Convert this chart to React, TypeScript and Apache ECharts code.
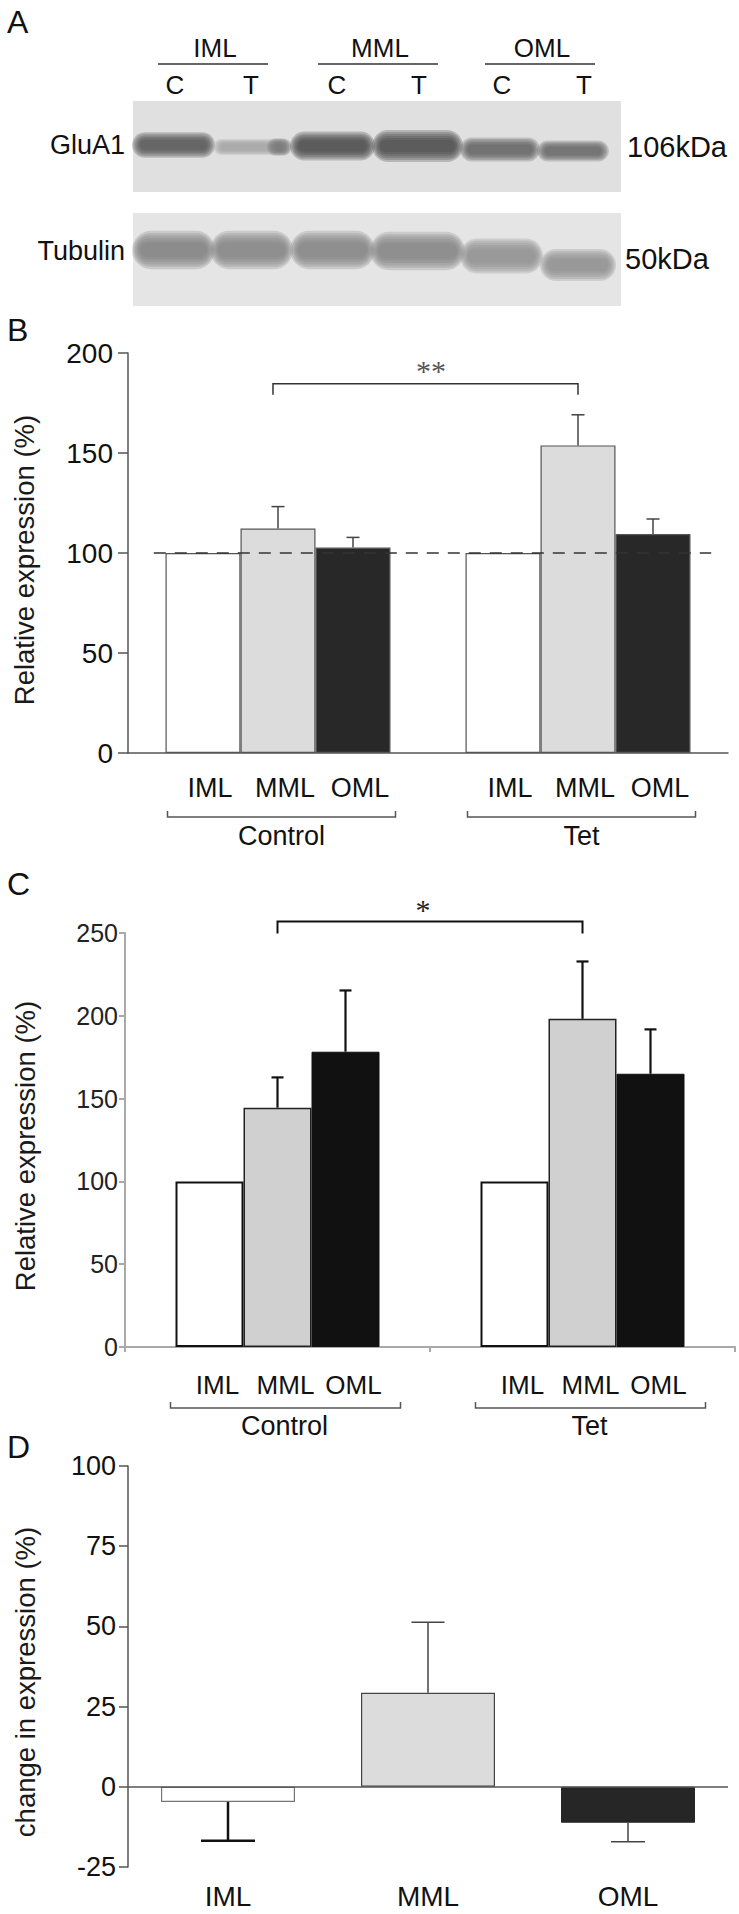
import React, { useEffect, useRef } from 'react';
import * as echarts from 'echarts';

// ---------------- Panel A (western blot) ----------------
const blotLayers = ['IML', 'MML', 'OML'];
const blotLanes = ['C', 'T', 'C', 'T', 'C', 'T'];
const blotRows = ['GluA1', 'Tubulin'];
const blotSizes = ['106kDa', '50kDa'];
const gluA1Intensity = [0.93, 0.45, 1.0, 1.0, 0.85, 0.82];
const tubulinIntensity = [0.62, 0.6, 0.6, 0.6, 0.55, 0.55];

// ---------------- Panel B ----------------
const bCategories = ['', 'IML', 'MML', 'OML', '', 'IML', 'MML', 'OML', ''];
const bMeans: (number | null)[] = [null, 100, 112.2, 102.7, null, 100, 153.8, 109.5, null];
const bErrors: (number | null)[] = [null, 0, 11.0, 5.1, null, 0, 15.3, 7.5, null];
const bGroups = ['Control', 'Tet'];
const bGroupSpans = [[1, 3], [5, 7]];
const bYTicks = [0, 50, 100, 150, 200];
const bReference = 100;
const bBracketSpan = [2, 6];
const bBracketLevel = 184.6;
const bSignificance = '**';

// ---------------- Panel C ----------------
const cGroups = ['Control', 'Tet'];
const cLayers = ['IML', 'MML', 'OML'];
const cIML = [100, 100];
const cMML = [144.5, 198.2];
const cOML = [178.3, 165.0];
const cIMLErr = [0, 0];
const cMMLErr = [18.3, 34.6];
const cOMLErr = [37.0, 26.8];
const cYTicks = [0, 50, 100, 150, 200, 250];
const cBracketLevel = 257;
const cSignificance = '*';

// ---------------- Panel D ----------------
const dCategories = ['IML', 'MML', 'OML'];
const dMeans = [-4.7, 29.3, -11.2];
const dErrors = [12.1, 22.0, 5.9];
const dYTicks = [-25, 0, 25, 50, 75, 100];

// ---------------- layout / style constants ----------------
const FONT = '"Liberation Sans", Arial, Helvetica, sans-serif';
const SERIF = '"Liberation Serif", "DejaVu Serif", serif';

const layerLineX = [[158, 268], [318, 438], [485, 595]];
const laneX = [175, 251, 337, 419, 502, 584];
// [centerX, width, centerY, height]
const gluBandGeom = [
  [173.5, 73, 145, 16], [253, 69, 147, 10], [332.5, 75, 146, 18],
  [417.5, 81, 146, 20], [500, 70, 149.5, 15], [573, 62, 151, 13],
];
const tubBandGeom = [
  [173.5, 73, 250, 24], [251.5, 73, 250, 24], [332.5, 75, 250, 24],
  [417.5, 85, 251, 24], [501.5, 73, 256, 22], [578, 66, 265, 20],
];

function txt(text: string, x: number, y: number, size: number, align = 'center', extra: any = {}, rotation = 0) {
  return {
    type: 'text', x, y, rotation, silent: true,
    style: {
      text, fill: '#111', fontSize: size, fontFamily: FONT,
      textAlign: align, textVerticalAlign: 'middle', align, verticalAlign: 'middle',
      ...extra,
    },
  };
}

// soft band built from stacked translucent rounded rects
function band(cx: number, w: number, cy: number, h: number, intensity: number, core: number): any[] {
  const g = Math.round(235 - intensity * (235 - core));
  const out: any[] = [];
  const layers = 6;
  for (let k = 0; k < layers; k++) {
    const ww = w + 10 - k * 3.2;
    const hh = h * 1.6 - k * (h * 1.2 / layers);
    out.push({
      type: 'rect', silent: true,
      shape: { x: cx - ww / 2, y: cy - hh / 2, width: ww, height: hh, r: hh / 2 },
      style: { fill: `rgba(${g},${g},${g},0.27)` },
    });
  }
  return out;
}

function buildGraphic() {
  const g: any[] = [];
  // panel letters
  g.push(txt('A', 7, 22, 32, 'left'));
  g.push(txt('B', 7, 330, 32, 'left'));
  g.push(txt('C', 7, 884, 32, 'left'));
  g.push(txt('D', 7, 1447, 32, 'left'));
  // blot header
  blotLayers.forEach((lab, k) => {
    const [x0, x1] = layerLineX[k];
    g.push({ type: 'line', silent: true, shape: { x1: x0, y1: 64, x2: x1, y2: 64 }, style: { stroke: '#333', lineWidth: 1.5 } });
    g.push(txt(lab, (x0 + x1) / 2 + 2, 48, 26));
  });
  blotLanes.forEach((lab, i) => g.push(txt(lab, laneX[i], 85, 26)));
  // blot boxes
  g.push({ type: 'rect', silent: true, shape: { x: 133, y: 101, width: 488, height: 91 }, style: { fill: '#e0e0e0' } });
  g.push({ type: 'rect', silent: true, shape: { x: 133, y: 213, width: 488, height: 93 }, style: { fill: '#e5e5e5' } });
  gluBandGeom.forEach((b, i) => g.push(...band(b[0], b[1], b[2], b[3], gluA1Intensity[i], 70)));
  // darker spot at the right end of the weak IML-T band
  g.push(...band(279, 14, 147, 11, 0.7, 70));
  tubBandGeom.forEach((b, i) => g.push(...band(b[0], b[1], b[2], b[3], tubulinIntensity[i], 60)));
  g.push(txt(blotRows[0], 125, 145, 27, 'right'));
  g.push(txt(blotRows[1], 125, 251, 27, 'right'));
  g.push(txt(blotSizes[0], 627, 147, 29, 'left'));
  g.push(txt(blotSizes[1], 625, 259, 29, 'left'));
  // y titles
  g.push(txt('Relative expression (%)', 24, 560, 27.5, 'center', { fill: '#1a1a1a' }, Math.PI / 2));
  g.push(txt('Relative expression (%)', 25, 1146, 27.5, 'center', { fill: '#1a1a1a' }, Math.PI / 2));
  g.push(txt('change in expression (%)', 25, 1682, 27.5, 'center', { fill: '#1a1a1a' }, Math.PI / 2));
  return g;
}

function line(x1: number, y1: number, x2: number, y2: number, stroke: string, lineWidth: number, extra: any = {}) {
  return { type: 'line', shape: { x1, y1, x2, y2 }, style: { stroke, lineWidth, ...extra } };
}

function buildOption(): any {
  const bColors: any = { IML: '#ffffff', MML: '#dcdcdc', OML: '#282828' };
  const axisB = { color: '#555', width: 1.5 };
  const axisC = { color: '#a9a9a9', width: 2 };

  const cMeans = [cIML, cMML, cOML];
  const cErrs = [cIMLErr, cMMLErr, cOMLErr];
  const cStyles = [
    { color: '#ffffff', borderColor: '#111', borderWidth: 2 },
    { color: '#d0d0d0', borderColor: '#222', borderWidth: 1.5 },
    { color: '#111111', borderColor: '#111', borderWidth: 1 },
  ];
  const C_BAR = 68;

  const dStyles = [
    { color: '#ffffff', borderColor: '#777', borderWidth: 1.2 },
    { color: '#dcdcdc', borderColor: '#444', borderWidth: 1.2 },
    { color: '#262626', borderColor: '#262626', borderWidth: 1 },
  ];
  const dErrStyles = [
    { stroke: '#111', lw: 2.5, cap: 27 },
    { stroke: '#444', lw: 1.5, cap: 16.5 },
    { stroke: '#444', lw: 1.5, cap: 17 },
  ];

  const series: any[] = [];

  // ---- B ----
  series.push({
    type: 'bar', xAxisIndex: 0, yAxisIndex: 0, barWidth: 75, z: 2,
    data: bMeans.map((v, i) => (v == null ? '-' : {
      value: v, itemStyle: { color: bColors[bCategories[i]], borderColor: '#555', borderWidth: 1.2 },
    })),
  });
  series.push({
    type: 'custom', xAxisIndex: 0, yAxisIndex: 0, clip: false, z: 3,
    data: bMeans.map((v, i) => [i, v ?? 0, (v ?? 0) + (bErrors[i] ?? 0)])
      .filter((_, i) => bMeans[i] != null && (bErrors[i] ?? 0) > 0),
    renderItem: (_p: any, api: any) => {
      const b = api.coord([api.value(0), api.value(1)]);
      const t = api.coord([api.value(0), api.value(2)]);
      return {
        type: 'group', children: [
          line(b[0], b[1], t[0], t[1], '#444', 1.5),
          line(t[0] - 6.5, t[1], t[0] + 6.5, t[1], '#444', 1.5),
        ],
      };
    },
  });
  series.push({
    type: 'custom', xAxisIndex: 0, yAxisIndex: 0, clip: false, z: 4,
    data: [[0, bReference]],
    renderItem: (_p: any, api: any) => {
      const a = api.coord([0, api.value(1)]);
      const b = api.coord([bCategories.length - 1, api.value(1)]);
      const L = b[0] - a[0];
      return line(a[0] + L * 0.043, a[1], a[0] + L * 0.972, a[1], '#333', 1.5, { lineDash: [12, 9] });
    },
  });
  series.push({
    type: 'custom', xAxisIndex: 0, yAxisIndex: 0, clip: false, z: 4,
    data: [[bBracketSpan[0], bBracketSpan[1], bBracketLevel]],
    renderItem: (_p: any, api: any) => {
      const l = api.coord([api.value(0), api.value(2)]);
      const r = api.coord([api.value(1), api.value(2)]);
      return {
        type: 'group', children: [
          { type: 'polyline', shape: { points: [[l[0] - 5, l[1] + 11], [l[0] - 5, l[1]], [r[0], r[1]], [r[0], r[1] + 11]] }, style: { stroke: '#333', lineWidth: 1.5, fill: null } },
          { type: 'text', x: (l[0] + r[0]) / 2 + 3, y: l[1] - 28, style: { text: bSignificance, fill: '#555', fontSize: 30, fontFamily: SERIF, textAlign: 'center', align: 'center', textVerticalAlign: 'top', verticalAlign: 'top' } },
        ],
      };
    },
  });
  series.push({
    type: 'custom', xAxisIndex: 0, yAxisIndex: 0, clip: false, z: 4,
    data: bGroupSpans,
    renderItem: (p: any, api: any) => {
      const a = api.coord([api.value(0), 0]);
      const b = api.coord([api.value(1), 0]);
      const x0 = a[0] - 37.5 + 2;
      const x1 = b[0] + 37.5 + 5;
      const y = a[1] + 64;
      return {
        type: 'group', children: [
          { type: 'polyline', shape: { points: [[x0, y - 6], [x0, y], [x1, y], [x1, y - 6]] }, style: { stroke: '#555', lineWidth: 1.5, fill: null } },
          { type: 'text', x: (x0 + x1) / 2, y: a[1] + 83, style: { text: bGroups[p.dataIndex], fill: '#111', fontSize: 27, fontFamily: FONT, textAlign: 'center', align: 'center', textVerticalAlign: 'middle', verticalAlign: 'middle' } },
        ],
      };
    },
  });

  // ---- C ----
  cLayers.forEach((name, k) => {
    series.push({
      type: 'bar', name, xAxisIndex: 1, yAxisIndex: 1, barWidth: C_BAR, barGap: '0%', z: 2,
      data: cMeans[k], itemStyle: cStyles[k],
    });
  });
  const cErrData: number[][] = [];
  cGroups.forEach((_, g) => cLayers.forEach((__, k) => {
    if (cErrs[k][g] > 0) cErrData.push([g, k, cMeans[k][g], cMeans[k][g] + cErrs[k][g]]);
  }));
  series.push({
    type: 'custom', xAxisIndex: 1, yAxisIndex: 1, clip: false, z: 3,
    data: cErrData,
    renderItem: (_p: any, api: any) => {
      const b = api.coord([api.value(0), api.value(2)]);
      const t = api.coord([api.value(0), api.value(3)]);
      const x = b[0] + (api.value(1) - 1) * C_BAR;
      return {
        type: 'group', children: [
          line(x, b[1], x, t[1], '#111', 2.2),
          line(x - 6, t[1], x + 6, t[1], '#111', 2.2),
        ],
      };
    },
  });
  series.push({
    type: 'custom', xAxisIndex: 1, yAxisIndex: 1, clip: false, z: 4,
    data: [[0, 1, cBracketLevel]],
    renderItem: (_p: any, api: any) => {
      const l = api.coord([api.value(0), api.value(2)]);
      const r = api.coord([api.value(1), api.value(2)]);
      return {
        type: 'group', children: [
          { type: 'polyline', shape: { points: [[l[0], l[1] + 12], [l[0], l[1]], [r[0], r[1]], [r[0], r[1] + 12]] }, style: { stroke: '#111', lineWidth: 2, fill: null } },
          { type: 'text', x: (l[0] + r[0]) / 2 - 7, y: l[1] - 27, style: { text: cSignificance, fill: '#222', fontSize: 30, fontFamily: SERIF, textAlign: 'center', align: 'center', textVerticalAlign: 'top', verticalAlign: 'top' } },
        ],
      };
    },
  });
  series.push({
    type: 'custom', xAxisIndex: 1, yAxisIndex: 1, clip: false, z: 4,
    data: cGroups.map((_, g) => [g, 0]),
    renderItem: (p: any, api: any) => {
      const a = api.coord([api.value(0), 0]);
      const children: any[] = cLayers.map((lab, k) => ({
        type: 'text', x: a[0] + (k - 1) * C_BAR + 8, y: a[1] + 38,
        style: { text: lab, fill: '#111', fontSize: 26, fontFamily: FONT, textAlign: 'center', align: 'center', textVerticalAlign: 'middle', verticalAlign: 'middle' },
      }));
      const x0 = a[0] - 107;
      const x1 = a[0] + 123;
      const y = a[1] + 61;
      children.push({ type: 'polyline', shape: { points: [[x0, y - 6], [x0, y], [x1, y], [x1, y - 6]] }, style: { stroke: '#555', lineWidth: 1.5, fill: null } });
      children.push({
        type: 'text', x: a[0] + 7, y: a[1] + 79,
        style: { text: cGroups[p.dataIndex], fill: '#111', fontSize: 27, fontFamily: FONT, textAlign: 'center', align: 'center', textVerticalAlign: 'middle', verticalAlign: 'middle' },
      });
      return { type: 'group', children };
    },
  });

  // ---- D ----
  series.push({
    type: 'bar', xAxisIndex: 2, yAxisIndex: 2, barWidth: 134, z: 2,
    data: dMeans.map((v, i) => ({ value: v, itemStyle: dStyles[i] })),
    markLine: {
      silent: true, symbol: ['none', 'none'], label: { show: false }, z: 5,
      lineStyle: { color: '#555', width: 1.5, type: 'solid' },
      data: [{ yAxis: 0 }],
    },
  });
  series.push({
    type: 'custom', xAxisIndex: 2, yAxisIndex: 2, clip: false, z: 3,
    data: dMeans.map((v, i) => [i, v, v + Math.sign(v) * dErrors[i]]),
    renderItem: (p: any, api: any) => {
      const s = dErrStyles[p.dataIndex];
      const b = api.coord([api.value(0), api.value(1)]);
      const t = api.coord([api.value(0), api.value(2)]);
      return {
        type: 'group', children: [
          line(b[0], b[1], t[0], t[1], s.stroke, s.lw),
          line(t[0] - s.cap, t[1], t[0] + s.cap, t[1], s.stroke, s.lw),
        ],
      };
    },
  });

  return {
    animation: false,
    backgroundColor: '#ffffff',
    textStyle: { fontFamily: FONT },
    grid: [
      { left: 128, top: 353, width: 600, height: 400 },
      { left: 125, top: 933, width: 610, height: 414 },
      { left: 128, top: 1466, width: 600, height: 401 },
    ],
    xAxis: [
      {
        gridIndex: 0, type: 'category', data: bCategories, boundaryGap: false,
        axisLine: { lineStyle: axisB }, axisTick: { show: false }, splitLine: { show: false },
        axisLabel: { interval: 0, fontSize: 27, color: '#111', fontFamily: FONT, margin: 21, padding: [0, 0, 0, 14] },
      },
      {
        gridIndex: 1, type: 'category', data: cGroups, boundaryGap: true,
        axisLine: { lineStyle: axisC }, axisTick: { show: true, length: 5, lineStyle: axisC },
        axisLabel: { show: false }, splitLine: { show: false },
      },
      {
        gridIndex: 2, type: 'category', data: dCategories, boundaryGap: true,
        axisLine: { show: false, onZero: false }, axisTick: { show: false }, splitLine: { show: false },
        axisLabel: { fontSize: 28, color: '#111', fontFamily: FONT, margin: 15 },
      },
    ],
    yAxis: [
      {
        gridIndex: 0, type: 'value', min: bYTicks[0], max: bYTicks[bYTicks.length - 1], interval: bYTicks[1] - bYTicks[0],
        axisLine: { show: true, lineStyle: axisB }, axisTick: { show: true, length: 10, lineStyle: axisB },
        axisLabel: { fontSize: 28, color: '#111', fontFamily: FONT, margin: 15 }, splitLine: { show: false },
      },
      {
        gridIndex: 1, type: 'value', min: cYTicks[0], max: cYTicks[cYTicks.length - 1], interval: cYTicks[1] - cYTicks[0],
        axisLine: { show: true, lineStyle: axisC }, axisTick: { show: true, length: 6, lineStyle: axisC },
        axisLabel: { fontSize: 25, color: '#222', fontFamily: FONT, margin: 7, padding: [22, 0, 0, 0] }, splitLine: { show: false },
      },
      {
        gridIndex: 2, type: 'value', min: dYTicks[0], max: dYTicks[dYTicks.length - 1], interval: dYTicks[1] - dYTicks[0],
        axisLine: { show: true, lineStyle: axisB }, axisTick: { show: true, length: 9, lineStyle: axisB },
        axisLabel: { fontSize: 27, color: '#111', fontFamily: FONT, margin: 12 }, splitLine: { show: false },
      },
    ],
    graphic: buildGraphic(),
    series,
  };
}

export default function App() {
  const ref = useRef<HTMLDivElement>(null);
  useEffect(() => {
    document.body.style.margin = '0';
    document.body.style.overflow = 'hidden';
    const chart = echarts.init(ref.current as HTMLDivElement, null, { renderer: 'svg' });
    chart.setOption(buildOption());
    return () => chart.dispose();
  }, []);
  return <div ref={ref} style={{ width: 739, height: 1914, background: '#fff' }} />;
}
